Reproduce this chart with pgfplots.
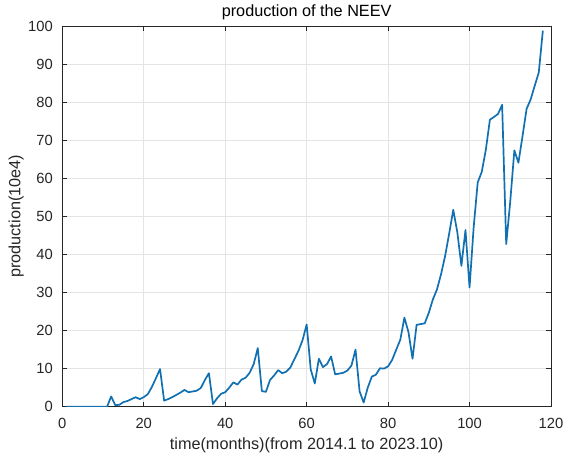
\documentclass[border=0pt]{standalone}
\usepackage{pgfplots}
\pgfplotsset{compat=1.18}
\usepackage{pgfplotstable}
\usepackage{fontspec}
\setmainfont{Liberation Sans}

\definecolor{mlblue}{RGB}{16,112,178}
\definecolor{axgray}{RGB}{38,38,38}
\definecolor{gridgray}{RGB}{228,228,228}

% monthly production, 2014.1 (month 1) to 2023.10 (month 118), unit 10e4
\pgfplotstableread{
m v
1 0
2 0
3 0
4 0
5 0
6 0
7 0
8 0
9 0
10 0
11 0
12 2.7
13 0.4
14 0.5
15 1.2
16 1.5
17 2.0
18 2.5
19 2.0
20 2.5
21 3.3
22 5.2
23 7.5
24 9.9
25 1.6
26 2.0
27 2.5
28 3.1
29 3.7
30 4.4
31 3.8
32 4.0
33 4.2
34 4.9
35 7.0
36 8.8
37 0.7
38 2.2
39 3.4
40 3.8
41 5.0
42 6.4
43 5.8
44 7.1
45 7.6
46 8.9
47 11.2
48 15.4
49 4.1
50 3.9
51 7.0
52 8.2
53 9.6
54 8.8
55 9.2
56 10.3
57 12.5
58 14.7
59 17.5
60 21.6
61 9.8
62 6.1
63 12.6
64 10.4
65 11.2
66 13.2
67 8.5
68 8.7
69 8.9
70 9.5
71 10.8
72 15.0
73 4.0
74 1.1
75 5.0
76 7.9
77 8.4
78 10.1
79 10.0
80 10.6
81 12.3
82 15.0
83 17.6
84 23.4
85 19.6
86 12.6
87 21.5
88 21.7
89 21.9
90 24.7
91 28.2
92 30.8
93 34.8
94 39.6
95 45.5
96 51.7
97 45.8
98 37.0
99 46.4
100 31.3
101 47.0
102 58.9
103 61.7
104 67.5
105 75.4
106 76.1
107 76.9
108 79.3
109 42.7
110 54.0
111 67.3
112 64.1
113 71.0
114 78.2
115 80.7
116 84.3
117 87.8
118 98.8
}\production

\begin{document}
\begin{tikzpicture}
\begin{axis}[
  at={(0,0)}, anchor=south west,
  scale only axis,
  width=488.7bp, height=380.7bp,
  xmin=0, xmax=120, ymin=0, ymax=100,
  xtick={0,20,...,120}, ytick={0,10,...,100},
  grid=major,
  major grid style={gridgray, line width=0.8bp},
  axis line style={axgray, line width=0.7bp},
  tick style={axgray, line width=0.7bp},
  tick align=inside,
  major tick length=5bp,
  /pgf/number format/assume math mode=true,
  ticklabel style={font=\fontsize{14.8}{17}\selectfont, text=axgray},
  xticklabel style={anchor=base, yshift=-21.6bp},
  yticklabel style={anchor=east, inner sep=0pt, xshift=-9.3bp},
  title={production of the NEEV},
  title style={at={([yshift=4bp]axis description cs:0.5,1)}, anchor=base,
    font=\fontsize{16.3}{19}\selectfont, text=black},
  xlabel={time(months)(from 2014.1 to 2023.10)},
  xlabel style={at={([yshift=-43bp]axis description cs:0.5,0)}, anchor=base,
    font=\fontsize{16.3}{19}\selectfont, text=axgray},
  ylabel={production(10e4)},
  ylabel style={at={([xshift=-42bp]axis description cs:0,0.5)}, anchor=base,
    font=\fontsize{16.3}{19}\selectfont, text=axgray},
]
\addplot[mlblue, line width=1.7bp, line join=round] table[x=m, y=v] {\production};
\end{axis}
\pgfresetboundingbox
\useasboundingbox (-62.3bp,-48.3bp) rectangle (502.7bp,406.7bp);
\end{tikzpicture}
\end{document}
